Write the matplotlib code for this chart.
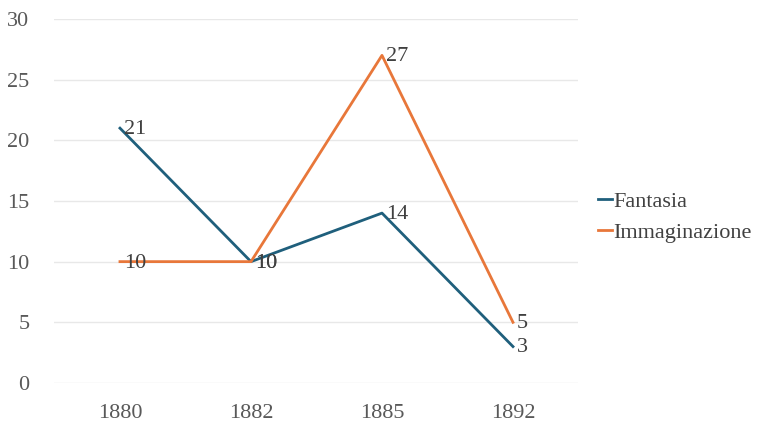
import matplotlib.pyplot as plt

# Dati del grafico
anni = ["1880", "1882", "1885", "1892"]
fantasia = [21, 10, 14, 3]
immaginazione = [10, 10, 27, 5]

plt.rcParams['font.family'] = ['Liberation Serif', 'DejaVu Serif']

fig = plt.figure(figsize=(7.65, 4.26), dpi=100)
ax = fig.add_axes([0.0712, 0.101, 0.685, 0.8545])

x = list(range(len(anni)))
ax.plot(x, fantasia, color='#1f5f7c', linewidth=2.0, label='Fantasia', zorder=3)
ax.plot(x, immaginazione, color='#e8773a', linewidth=2.0, label='Immaginazione', zorder=3)

# Etichette dei valori a destra dei punti
for xi, v in zip(x, fantasia):
    ax.annotate(str(v), (xi, v), xytext=(3, -1), textcoords='offset points',
                ha='left', va='center', fontsize=16, color='#404040', zorder=4)
for xi, v in zip(x, immaginazione):
    ax.annotate(str(v), (xi, v), xytext=(3, -1), textcoords='offset points',
                ha='left', va='center', fontsize=16, color='#404040', zorder=4)

ax.set_xlim(-0.5, len(anni) - 0.5)
ax.set_ylim(0, 30)
ax.set_yticks(range(0, 31, 5))
ax.set_xticks(x)
ax.set_xticklabels(anni)
ax.tick_params(length=0, labelsize=16, colors='#595959')
ax.tick_params(axis='y', pad=18)
ax.tick_params(axis='x', pad=15)
ax.grid(axis='y', color='#e8e8e8', linewidth=1.0)
ax.set_axisbelow(True)
for s in ax.spines.values():
    s.set_visible(False)

ax.legend(loc='center left', bbox_to_anchor=(1.0, 0.456), frameon=False,
          fontsize=16, handlelength=0.6, handletextpad=0.05, labelspacing=0.45,
          labelcolor='#404040')

fig.savefig('out.png', dpi=100)
